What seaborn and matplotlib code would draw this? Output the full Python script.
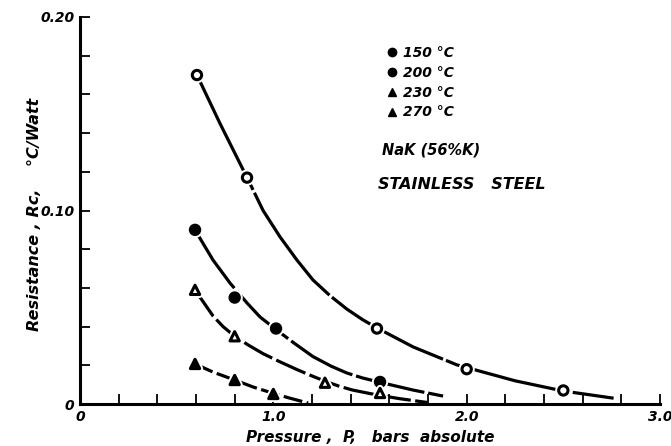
import numpy as np
import pandas as pd
import matplotlib
matplotlib.use("Agg")
import matplotlib.pyplot as plt
import matplotlib.patheffects as pe
from matplotlib.lines import Line2D
from matplotlib.ticker import MultipleLocator, FixedLocator, FixedFormatter
import seaborn as sns

# ---- data ----
labels = ["150 °C", "200 °C", "230 °C", "270 °C"]

# measured points (markers)
p150 = [0.605, 0.864, 1.536, 2.00, 2.50]
r150 = [0.170, 0.117, 0.039, 0.018, 0.007]
p200 = [0.595, 0.80, 1.014, 1.552]
r200 = [0.090, 0.055, 0.039, 0.0114]
p230 = [0.595, 0.80, 1.267, 1.552]
r230 = [0.059, 0.035, 0.011, 0.0057]
p270 = [0.595, 0.80, 1.00]
r270 = [0.0207, 0.0124, 0.0052]

# faired curves
cp150 = [0.605, 0.724, 0.864, 0.947, 1.035, 1.122, 1.205, 1.293, 1.381, 1.46, 1.536,
         1.723, 1.950, 2.25, 2.50, 2.76]
cr150 = [0.170, 0.145, 0.117, 0.100, 0.0863, 0.0744, 0.0641, 0.0560, 0.0490, 0.0437, 0.0393,
         0.0295, 0.0202, 0.012, 0.0067, 0.003]
cp200 = [0.595, 0.688, 0.776, 0.864, 0.931, 1.014, 1.10, 1.205, 1.30, 1.381, 1.46,
         1.552, 1.723, 1.878]
cr200 = [0.0899, 0.0744, 0.0625, 0.0522, 0.045, 0.0385, 0.032, 0.0245, 0.0195, 0.016, 0.0135,
         0.0112, 0.0072, 0.0041]
cp230 = [0.595, 0.688, 0.74, 0.80, 0.87, 0.947, 1.03, 1.122, 1.20, 1.267, 1.34, 1.41,
         1.52, 1.65, 1.795]
cr230 = [0.0589, 0.0455, 0.040, 0.035, 0.0305, 0.026, 0.022, 0.0178, 0.0145, 0.0118, 0.0092,
         0.0072, 0.005, 0.0028, 0.0008]
cp270 = [0.595, 0.688, 0.80, 0.895, 1.00, 1.086, 1.18]
cr270 = [0.0207, 0.0165, 0.0124, 0.0088, 0.0055, 0.003, 0.0005]

xticks = [0, 1.0, 2.0, 3.0]
xticklabels = ["0", "1.0", "2.0", "3.0"]
yticks = [0, 0.10, 0.20]
yticklabels = ["0", "0.10", "0.20"]

sns.set_theme(style="white")
plt.rcParams["font.family"] = ["DejaVu Sans"]
plt.rcParams["text.color"] = "black"
font = dict(style="italic", weight="bold")

fig = plt.figure(figsize=(6.71, 4.46), dpi=100)
ax = fig.add_axes([80 / 671, 1 - 404 / 446, 580 / 671, 387 / 446])
ax.set_xlim(0, 3.0)
ax.set_ylim(0, 0.20)

curves = [(cp150, cr150, (40, 1.0)), (cp200, cr200, (22, 1.2)),
          (cp230, cr230, (10, 1.4)), (cp270, cr270, (6, 1.4))]
for cx, cy, dash in curves:
    df = pd.DataFrame({"P": cx, "R": cy})
    sns.lineplot(data=df, x="P", y="R", color="black", lw=2.3, sort=False,
                 estimator=None, ax=ax)
    ax.lines[-1].set_dashes(dash)
    ax.lines[-1].set_solid_capstyle("round")

halo = [pe.withStroke(linewidth=5, foreground="white")]
marks = [(p150, r150, "o", "white"), (p200, r200, "o", "black"),
         (p230, r230, "^", "white"), (p270, r270, "^", "black")]
for mx, my, mk, fc in marks:
    sns.scatterplot(x=mx, y=my, marker=mk, s=45, facecolor=fc,
                    edgecolor="black", linewidth=2.2, ax=ax, zorder=5)
    ax.collections[-1].set_path_effects(halo)

# axes styling
for s in ["top", "right"]:
    ax.spines[s].set_visible(False)
for s in ["left", "bottom"]:
    ax.spines[s].set_linewidth(2.2)
    ax.spines[s].set_color("black")
ax.xaxis.set_major_locator(FixedLocator(xticks))
ax.xaxis.set_major_formatter(FixedFormatter(xticklabels))
ax.yaxis.set_major_locator(FixedLocator(yticks))
ax.yaxis.set_major_formatter(FixedFormatter(yticklabels))
ax.xaxis.set_minor_locator(MultipleLocator(0.2))
ax.yaxis.set_minor_locator(MultipleLocator(0.02))
ax.tick_params(which="both", direction="in", color="black", width=1.3,
               bottom=True, left=True, length=7, pad=4)
for t in ax.get_xticklabels() + ax.get_yticklabels():
    t.set_fontstyle("italic")
    t.set_fontweight("bold")
    t.set_fontsize(10)
    t.set_color("black")

ax.set_xlabel("Pressure ,  P,   bars  absolute", fontsize=11, labelpad=5,
              color="black", **font)
ax.set_ylabel("Resistance , Rc,    °C/Watt", fontsize=11.5,
              color="black", **font)
ax.yaxis.set_label_coords(-0.066, 0.49)

handles = [Line2D([], [], marker=m, ls="", color="black", markersize=6)
           for m in ["o", "o", "^", "^"]]
leg = ax.legend(handles, labels, loc="upper left",
                bbox_to_anchor=(386 / 671, 1 - 46 / 446), bbox_transform=fig.transFigure,
                frameon=False, handletextpad=0.4, labelspacing=0.42, handlelength=0.8,
                borderpad=0, borderaxespad=0,
                prop=dict(style="italic", weight="bold", size=10))
for t in leg.get_texts():
    t.set_color("black")

fig.text(382 / 671, 1 - 150 / 446, "NaK (56%K)", ha="left", va="center",
         fontsize=10.5, color="black", **font)
fig.text(378 / 671, 1 - 184 / 446, "STAINLESS   STEEL", ha="left", va="center",
         fontsize=11.5, color="black", **font)

fig.savefig("out.png", dpi=100, facecolor="white")
